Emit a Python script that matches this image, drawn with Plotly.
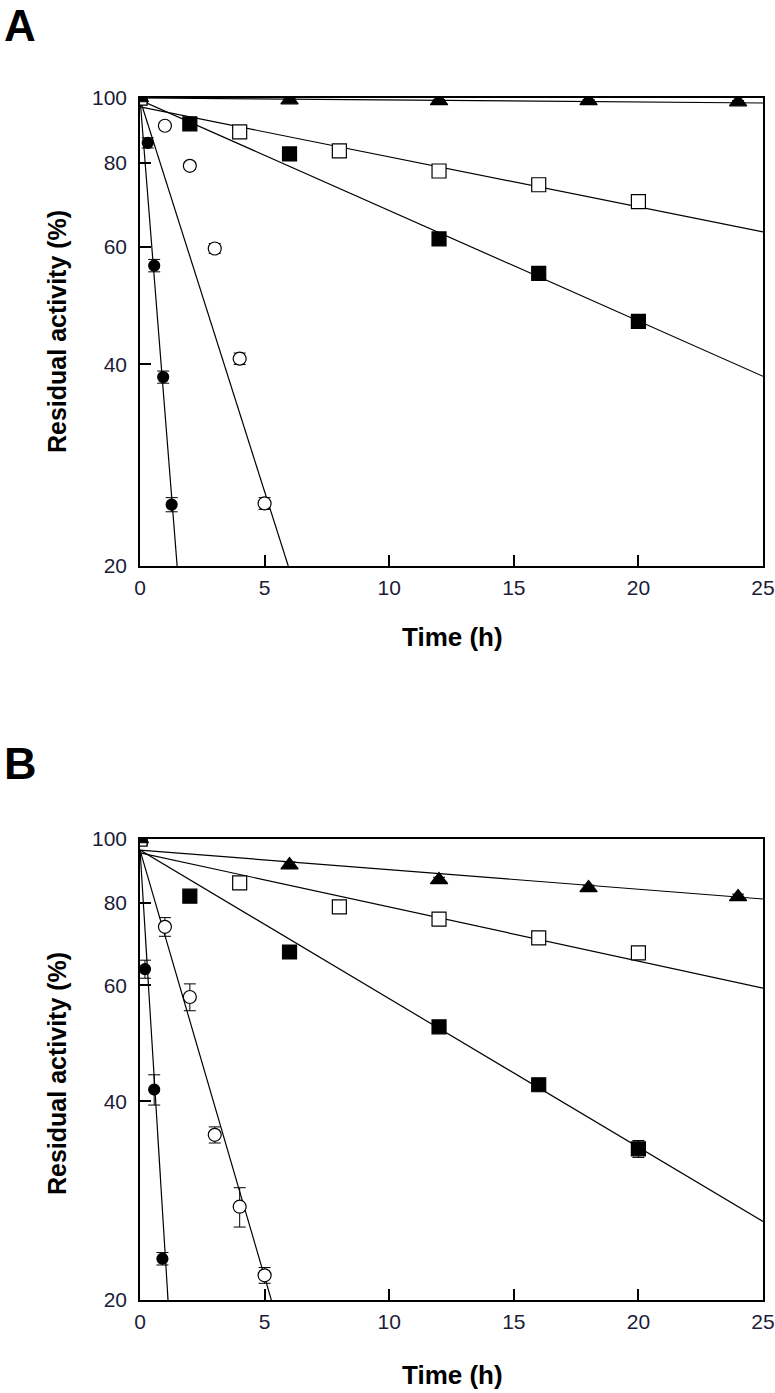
import numpy as np
import plotly.graph_objects as go

# target picture size; the page body margin is removed below so figure pixels = page pixels
W, H = 775, 1393
OFF = 0
FW, FH = W, H

# ---------------- Panel A data (time h, residual activity %, error) ----------------
a_t_fc = [0, 0.31, 0.57, 0.93, 1.27]
a_y_fc = [100, 85.7, 56.2, 38.3, 24.7]
a_e_fc = [0, 1.5, 1.2, 0.8, 0.6]

a_t_oc = [0, 1, 2, 3, 4, 5]
a_y_oc = [100, 90.9, 79.2, 59.6, 40.8, 24.8]
a_e_oc = [0, 1.0, 1.0, 1.0, 0.8, 0.5]

a_t_fs = [0, 2, 6, 12, 16, 20]
a_y_fs = [100, 91.5, 82.5, 61.6, 54.7, 46.4]
a_e_fs = [0, 1.0, 1.0, 1.0, 1.0, 1.0]

a_t_os = [0, 4, 8, 12, 16, 20]
a_y_os = [100, 89.0, 83.4, 77.8, 74.2, 70.0]
a_e_os = [0, 0.8, 0.8, 0.8, 1.0, 1.0]

a_t_tr = [0, 6, 12, 18, 24]
a_y_tr = [100, 99.3, 99.0, 99.0, 98.6]
a_e_tr = [0, 0.5, 0.5, 0.5, 0.5]

# fitted first-order decay lines: A0 (%) and k (1/h)
a_fit_a0 = [100, 99.5, 99.3, 97.0, 100]
a_fit_k = [1.08, 0.2697, 0.038, 0.0172, 0.000686]

# ---------------- Panel B data ----------------
b_t_fc = [0, 0.2, 0.57, 0.9]
b_y_fc = [100, 63.5, 41.7, 23.1]
b_e_fc = [0, 2.0, 2.2, 0.5]

b_t_oc = [0, 1, 2, 3, 4, 5]
b_y_oc = [100, 73.6, 57.6, 35.6, 27.7, 21.8]
b_e_oc = [0, 2.4, 2.7, 1.0, 1.9, 0.6]

b_t_fs = [0, 2, 6, 12, 16, 20]
b_y_fs = [100, 81.9, 67.4, 51.9, 42.4, 33.9]
b_e_fs = [0, 1.0, 1.0, 1.0, 0.8, 1.0]

b_t_os = [0, 4, 8, 12, 16, 20]
b_y_os = [100, 85.8, 78.9, 75.6, 70.8, 67.2]
b_e_os = [0, 1.0, 0.8, 0.8, 0.8, 0.8]

b_t_tr = [0, 6, 12, 18, 24]
b_y_tr = [100, 91.3, 86.7, 84.3, 81.7]
b_e_tr = [0, 1.0, 0.8, 0.8, 0.8]

b_fit_a0 = [96.5, 96.2, 96.2, 95.3, 96.2]
b_fit_k = [1.40, 0.298, 0.05187, 0.01891, 0.00683]

x_ticks = [0, 5, 10, 15, 20, 25]
y_ticks = [20, 40, 60, 80, 100]

FONT = "Liberation Sans, Arial, sans-serif"
TICKCOL = "#1c1c38"


def px_x(x):
    return (x - OFF) / FW


def px_y(y):
    return 1 - (y - OFF) / FH


fig = go.Figure()

styles = [
    dict(symbol="circle", size=11, color="black"),
    dict(symbol="circle", size=13, color="white"),
    dict(symbol="square", size=14, color="black"),
    dict(symbol="square", size=14, color="white"),
    dict(symbol="triangle-up", size=15, color="black"),
]


def add_panel(series, fits_a0, fits_k, xa, ya):
    for a0, k in zip(fits_a0, fits_k):
        t_end = min(25.0, np.log(a0 / 20.0) / k)
        tt = [0.0, t_end]
        yy = [a0, a0 * np.exp(-k * t_end)]
        fig.add_trace(go.Scatter(x=tt, y=yy, mode="lines",
                                 line=dict(color="black", width=1.2),
                                 xaxis=xa, yaxis=ya, showlegend=False,
                                 hoverinfo="skip"))
    for (t, y, e), st in zip(series, styles):
        fig.add_trace(go.Scatter(
            x=t, y=y, mode="markers", xaxis=xa, yaxis=ya, showlegend=False,
            error_y=dict(type="data", array=e, visible=True, color="black",
                         thickness=1, width=6),
            marker=dict(symbol=st["symbol"], size=st["size"], color=st["color"],
                        line=dict(color="black", width=1.2)),
        ))


add_panel([(a_t_fc, a_y_fc, a_e_fc), (a_t_oc, a_y_oc, a_e_oc),
           (a_t_fs, a_y_fs, a_e_fs), (a_t_os, a_y_os, a_e_os),
           (a_t_tr, a_y_tr, a_e_tr)], a_fit_a0, a_fit_k, "x", "y")
add_panel([(b_t_fc, b_y_fc, b_e_fc), (b_t_oc, b_y_oc, b_e_oc),
           (b_t_fs, b_y_fs, b_e_fs), (b_t_os, b_y_os, b_e_os),
           (b_t_tr, b_y_tr, b_e_tr)], b_fit_a0, b_fit_k, "x2", "y2")

xdom = [px_x(140), px_x(763)]
ydomA = [px_y(566), px_y(98)]
ydomB = [px_y(1300), px_y(839)]

xcommon = dict(range=[0, 25], tickvals=x_ticks, ticktext=[str(v) for v in x_ticks],
               ticks="inside", ticklen=11, tickwidth=1.5, tickcolor="black",
               showline=True, linewidth=1.6, linecolor="black", mirror=True,
               showgrid=False, zeroline=False, automargin=False,
               ticklabelstandoff=2,
               tickfont=dict(family=FONT, size=21, color=TICKCOL))
ycommon = dict(type="log", range=[np.log10(20), 2], tickvals=y_ticks,
               ticktext=[str(v) for v in y_ticks],
               ticks="inside", ticklen=11, tickwidth=1.5, tickcolor="black",
               showline=True, linewidth=1.6, linecolor="black", mirror=True,
               showgrid=False, zeroline=False, automargin=False,
               ticklabelstandoff=7,
               tickfont=dict(family=FONT, size=21, color=TICKCOL))

fig.update_layout(
    width=FW, height=FH,
    margin=dict(l=0, r=0, t=0, b=0),
    paper_bgcolor="white", plot_bgcolor="white",
    xaxis=dict(domain=xdom, anchor="y", **xcommon),
    yaxis=dict(domain=ydomA, anchor="x", **ycommon),
    xaxis2=dict(domain=xdom, anchor="y2", **xcommon),
    yaxis2=dict(domain=ydomB, anchor="x2", **ycommon),
)

ann = []
ann.append(dict(text="<b>A</b>", x=px_x(20), y=1.0, xref="paper",
                yref="paper", showarrow=False, xanchor="center", yanchor="top",
                borderpad=0,
                font=dict(family=FONT, size=44, color="black")))
ann.append(dict(text="<b>B</b>", x=px_x(20), y=px_y(763), xref="paper",
                yref="paper", showarrow=False, xanchor="center", yanchor="middle",
                font=dict(family=FONT, size=45, color="black")))
for ty in [637, 1375]:
    ann.append(dict(text="<b>Time (h)</b>", x=px_x(452), y=px_y(ty), xref="paper",
                    yref="paper", showarrow=False, xanchor="center", yanchor="middle",
                    font=dict(family=FONT, size=26, color="black")))
for ty in [332, 1074]:
    ann.append(dict(text="<b>Residual activity (%)</b>", x=px_x(57), y=px_y(ty),
                    xref="paper", yref="paper", showarrow=False, textangle=-90,
                    xanchor="center", yanchor="middle",
                    font=dict(family=FONT, size=25, color="black")))
fig.update_layout(annotations=ann)

fig.write_html(
    "out.html",
    config={"displayModeBar": False},
    post_script="document.body.style.margin='0px';document.body.style.overflow='hidden';",
)
